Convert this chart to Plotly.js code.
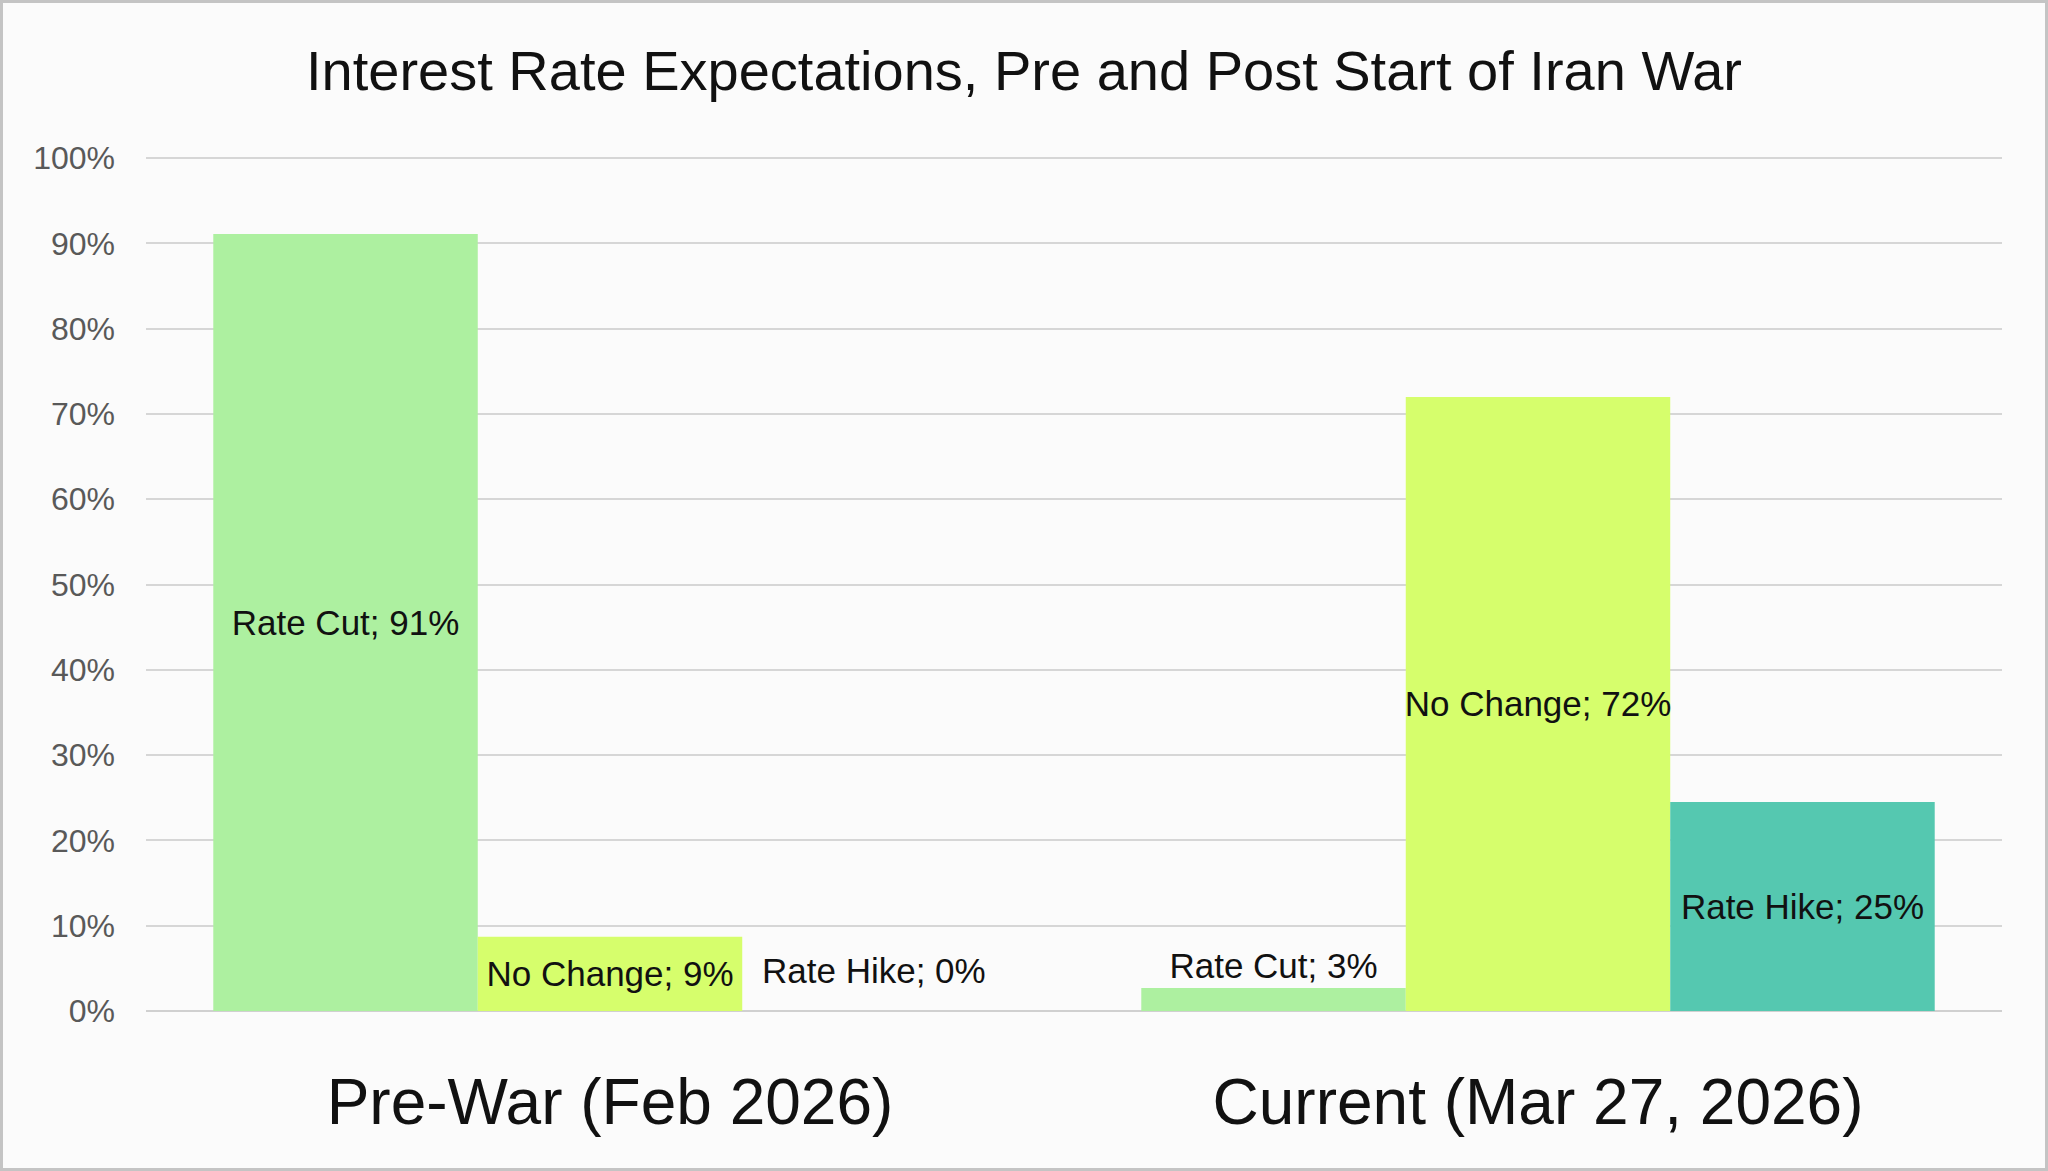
<!DOCTYPE html>
<html>
<head>
<meta charset="utf-8">
<script src="https://cdn.plot.ly/plotly-3.0.1.min.js"></script>
<style>
  html, body { margin: 0; padding: 0; background: #fbfbfb; }
  #chart {
    box-sizing: border-box;
    width: 2048px;
    height: 1171px;
    border: 3px solid #c4c4c4;
  }
</style>
</head>
<body>
<div id="chart"></div>
<script>
const categories = ['Pre-War (Feb 2026)', 'Current (Mar 27, 2026)'];
const seriesNames = ['Rate Cut', 'No Change', 'Rate Hike'];
const rateCut = [91.1, 2.7];
const noChange = [8.7, 72.0];
const rateHike = [0, 24.5];
const rateCutLabels = ['91%', '3%'];
const noChangeLabels = ['9%', '72%'];
const rateHikeLabels = ['0%', '25%'];
const yTicks = [0, 10, 20, 30, 40, 50, 60, 70, 80, 90, 100];

const colors = ['#adf0a0', '#d6fe6c', '#55c8b0'];
const fontFamily = 'Liberation Sans, Arial, sans-serif';
const labelFont = { family: fontFamily, size: 35, color: '#111' };
const bargap = 0.145;

function barTrace(name, values, labels, color, positions) {
  return {
    type: 'bar',
    name: name,
    x: categories,
    y: values,
    // zero-height bars get their label from an annotation below
    text: labels.map((l, i) => values[i] === 0 ? '' : name + '; ' + l),
    textposition: positions,
    insidetextanchor: 'middle',
    textangle: 0,
    constraintext: 'none',
    cliponaxis: false,
    textfont: labelFont,
    insidetextfont: labelFont,
    outsidetextfont: labelFont,
    marker: { color: color, line: { width: 0 } },
    hoverinfo: 'skip',
  };
}

const series = [
  [seriesNames[0], rateCut, rateCutLabels, colors[0], ['inside', 'outside']],
  [seriesNames[1], noChange, noChangeLabels, colors[1], ['inside', 'inside']],
  [seriesNames[2], rateHike, rateHikeLabels, colors[2], ['outside', 'inside']],
];

const traces = series.map(s => barTrace(...s));

// labels for zero values sit a little above the baseline, as in the source chart
const annotations = [];
const barWidth = (1 - bargap) / series.length;
series.forEach((s, si) => {
  s[1].forEach((v, ci) => {
    if (v !== 0) return;
    annotations.push({
      xref: 'x',
      yref: 'y',
      x: ci - (1 - bargap) / 2 + barWidth * (si + 0.5),
      y: v,
      text: s[0] + '; ' + s[2][ci],
      showarrow: false,
      yanchor: 'middle',
      yshift: 41,
      font: labelFont,
    });
  });
});

const layout = {
  width: 2042,
  height: 1165,
  paper_bgcolor: '#fbfbfb',
  plot_bgcolor: '#fbfbfb',
  margin: { l: 143, r: 43, t: 153, b: 157 },
  showlegend: false,
  barmode: 'group',
  bargap: bargap,
  bargroupgap: 0,
  annotations: annotations,
  title: {
    text: 'Interest Rate Expectations, Pre and Post Start of Iran War',
    font: { family: fontFamily, size: 56, color: '#111' },
    x: 0.5,
    xanchor: 'center',
    y: 1 - 67 / 1165,
    yanchor: 'middle',
    yref: 'container',
  },
  xaxis: {
    type: 'category',
    range: [-0.5, 1.5],
    showgrid: false,
    showline: false,
    zeroline: false,
    ticks: '',
    ticklabelstandoff: 48,
    tickfont: { family: fontFamily, size: 64, color: '#111' },
  },
  yaxis: {
    range: [0, 100.25],
    tickvals: yTicks,
    ticktext: yTicks.map(v => v + '%'),
    showgrid: true,
    gridcolor: '#d6d6d6',
    gridwidth: 2,
    zeroline: true,
    zerolinecolor: '#d0d0d0',
    zerolinewidth: 2,
    showline: false,
    ticks: '',
    ticklabelstandoff: 30,
    tickfont: { family: fontFamily, size: 32, color: '#595959' },
  },
};

Plotly.newPlot('chart', traces, layout, { displayModeBar: false, staticPlot: true });
</script>
</body>
</html>
